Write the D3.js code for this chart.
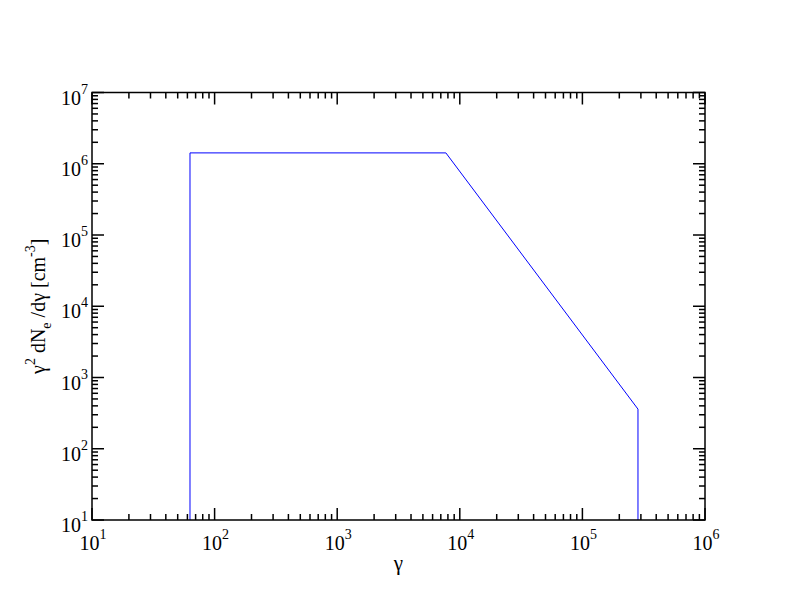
<!DOCTYPE html>
<meta charset="utf-8">
<style>
  body { margin: 0; background: #fff; }
  text { font-family: "Liberation Serif", "DejaVu Serif", serif; fill: #000; }
</style>
<script src="https://d3js.org/d3.v7.min.js"></script>
<div id="chart"></div>
<script>
// spectrum: gamma vs gamma^2 dN/dgamma
var gammaVals = [63, 63, 7700, 284000, 284000];
var specVals  = [10, 1.42e6, 1.42e6, 360, 10];

var xDecades = [1, 2, 3, 4, 5, 6];
var yDecades = [1, 2, 3, 4, 5, 6, 7];

var margin = {top: 92.5, right: 87, bottom: 92, left: 92},
  W = 792, H = 612,
  width = W - margin.left - margin.right,
  height = H - margin.top - margin.bottom;

var svg = d3.select("#chart").append("svg")
  .attr("width", W).attr("height", H);

var g = svg.append("g")
  .attr("transform", "translate(" + margin.left + "," + margin.top + ")");

var x = d3.scaleLog().domain([10, 1e6]).range([0, width]);
var y = d3.scaleLog().domain([10, 1e7]).range([height, 0]);

// clip for the line
g.append("clipPath").attr("id", "clip")
  .append("rect").attr("width", width).attr("height", height);

var pts = gammaVals.map(function(d, i) { return [d, specVals[i]]; });
g.append("path")
  .datum(pts)
  .attr("clip-path", "url(#clip)")
  .attr("d", d3.line().x(function(d) { return x(d[0]); }).y(function(d) { return y(d[1]); }))
  .style("fill", "none")
  .style("stroke", "#0000ff")
  .style("stroke-width", 1);

// frame
g.append("rect")
  .attr("width", width).attr("height", height)
  .style("fill", "none").style("stroke", "#000").style("stroke-width", 1.5);

// ticks (inward, on all four sides)
function minorList(decs) {
  var out = [];
  decs.slice(0, -1).forEach(function(e) {
    for (var m = 2; m <= 9; m++) out.push(m * Math.pow(10, e));
  });
  return out;
}
var majLen = 12, minLen = 6;
var xMaj = xDecades.map(function(e) { return Math.pow(10, e); });
var yMaj = yDecades.map(function(e) { return Math.pow(10, e); });
var ticks = g.append("g").style("stroke", "#000").style("stroke-width", 1.5);

function xTicks(vals, len) {
  vals.forEach(function(v) {
    var px = x(v);
    ticks.append("line").attr("x1", px).attr("x2", px).attr("y1", height).attr("y2", height - len);
    ticks.append("line").attr("x1", px).attr("x2", px).attr("y1", 0).attr("y2", len);
  });
}
function yTicks(vals, len) {
  vals.forEach(function(v) {
    var py = y(v);
    ticks.append("line").attr("y1", py).attr("y2", py).attr("x1", 0).attr("x2", len);
    ticks.append("line").attr("y1", py).attr("y2", py).attr("x1", width).attr("x2", width - len);
  });
}
xTicks(xMaj, majLen); xTicks(minorList(xDecades), minLen);
yTicks(yMaj, majLen); yTicks(minorList(yDecades), minLen);

// tick labels
xDecades.forEach(function(e) {
  var t = g.append("text")
    .attr("x", x(Math.pow(10, e)) + 1)
    .attr("y", height + 30)
    .attr("text-anchor", "middle")
    .style("font-size", "20px");
  t.append("tspan").text("10");
  t.append("tspan").attr("dy", -11).style("font-size", "14px").text(e);
});
yDecades.forEach(function(e) {
  var t = g.append("text")
    .attr("x", -4)
    .attr("y", y(Math.pow(10, e)) + 12)
    .attr("text-anchor", "end")
    .style("font-size", "20px");
  t.append("tspan").text("10");
  t.append("tspan").attr("dy", -11).style("font-size", "14px").text(e);
});

// axis titles
g.append("text")
  .attr("x", width / 2)
  .attr("y", height + 50)
  .attr("text-anchor", "middle")
  .style("font-size", "21px")
  .text("γ");

var yl = g.append("text")
  .attr("transform", "translate(-47," + (height / 2) + ") rotate(-90)")
  .attr("text-anchor", "middle")
  .style("font-size", "20px");
yl.append("tspan").text("γ");
yl.append("tspan").attr("dy", -10).style("font-size", "14px").text("2");
yl.append("tspan").attr("dy", 10).text(" dN");
yl.append("tspan").attr("dy", 6).style("font-size", "14px").text("e");
yl.append("tspan").attr("dy", -6).text(" /dγ [cm");
yl.append("tspan").attr("dy", -10).style("font-size", "14px").text("-3");
yl.append("tspan").attr("dy", 10).text("]");
</script>
